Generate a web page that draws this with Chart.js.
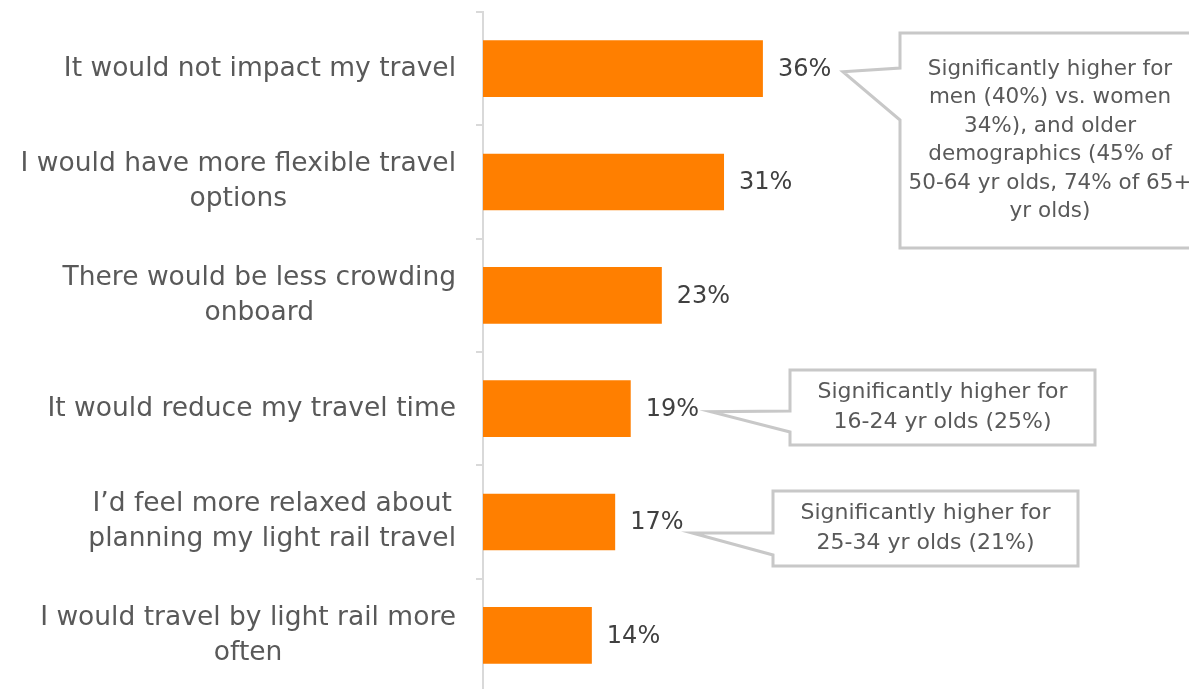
<!DOCTYPE html>
<html>
<head>
<meta charset="utf-8">
<script src="https://cdn.jsdelivr.net/npm/chart.js@4/dist/chart.umd.min.js"></script>
<style>
  html, body { margin: 0; padding: 0; background: #fff; overflow: hidden; }
  #wrap { width: 1189px; height: 689px; overflow: hidden; }
</style>
</head>
<body>
<div id="wrap"><canvas id="chart" width="1189" height="700"></canvas></div>
<script>
// Light rail survey: expected impact on travel (% of respondents)
const categories = [
  ["It would not impact my travel"],
  ["I would have more flexible travel", "options"],
  ["There would be less crowding", "onboard"],
  ["It would reduce my travel time"],
  ["I\u2019d feel more relaxed about", "planning my light rail travel"],
  ["I would travel by light rail more", "often"]
];
const shares = [36, 31, 23, 19, 17, 14];

const noteTopLines = [
  "Significantly higher for",
  "men (40%) vs. women",
  "34%), and older",
  "demographics (45% of",
  "50-64 yr olds, 74% of 65+",
  "yr olds)"
];
const noteYoungLines = ["Significantly higher for", "16-24 yr olds (25%)"];
const noteMidLines = ["Significantly higher for", "25-34 yr olds (21%)"];

const FONT = "'DejaVu Sans', sans-serif";
const ORANGE = "#FF7F00";
const GREY_LINE = "#d9d9d9";

// callout geometry: box in canvas px, pointer tip anchored to the bar end
const callouts = [
  { index: 0, lines: noteTopLines, box: [900, 33, 300, 215], base: [68, 120], tipDx: 80, tipDy: 3, lineH: 28.5, size: 21.5 },
  { index: 3, lines: noteYoungLines, box: [790, 370, 305, 75], base: [411, 432], tipDx: 80, tipDy: 3, lineH: 30, size: 22 },
  { index: 4, lines: noteMidLines, box: [773, 491, 305, 75], base: [533, 555], tipDx: 77, tipDy: 11, lineH: 30, size: 22 }
];

const labelPlugin = {
  id: "labels",
  afterDatasetsDraw(chart) {
    const ctx = chart.ctx;
    const meta = chart.getDatasetMeta(0);
    const yScale = chart.scales.y;

    ctx.save();
    // category labels: right-aligned block, lines centred inside it
    ctx.font = "26.5px " + FONT;
    ctx.fillStyle = "#595959";
    ctx.textAlign = "center";
    ctx.textBaseline = "middle";
    const right = yScale.right - 27;
    categories.forEach((lines, i) => {
      const cy = yScale.getPixelForValue(i);
      const w = Math.max(...lines.map((l) => ctx.measureText(l).width));
      const lh = 35;
      lines.forEach((l, k) => {
        ctx.fillText(l, right - w / 2, cy + (k - (lines.length - 1) / 2) * lh);
      });
    });

    // value labels
    ctx.font = "24px " + FONT;
    ctx.fillStyle = "#404040";
    ctx.textAlign = "left";
    meta.data.forEach((bar, i) => {
      ctx.fillText(shares[i] + "%", bar.x + 15, bar.y + 1);
    });

    // callouts
    callouts.forEach((c) => {
      const bar = meta.data[c.index];
      const tipX = bar.x + c.tipDx;
      const tipY = bar.y + c.tipDy;
      const [bx, by, bw, bh] = c.box;
      ctx.beginPath();
      ctx.moveTo(bx, by);
      ctx.lineTo(bx + bw, by);
      ctx.lineTo(bx + bw, by + bh);
      ctx.lineTo(bx, by + bh);
      ctx.lineTo(bx, c.base[1]);
      ctx.lineTo(tipX, tipY);
      ctx.lineTo(bx, c.base[0]);
      ctx.closePath();
      ctx.fillStyle = "#fff";
      ctx.fill();
      ctx.strokeStyle = "#c8c8c8";
      ctx.lineWidth = 3;
      ctx.lineJoin = "miter";
      ctx.stroke();

      ctx.font = c.size + "px " + FONT;
      ctx.fillStyle = "#595959";
      ctx.textAlign = "center";
      const cx = bx + bw / 2;
      const cy = by + bh / 2;
      c.lines.forEach((l, k) => {
        ctx.fillText(l, cx, cy + (k - (c.lines.length - 1) / 2) * c.lineH);
      });
    });
    ctx.restore();
  }
};

new Chart(document.getElementById("chart"), {
  type: "bar",
  data: {
    labels: categories,
    datasets: [{
      data: shares,
      backgroundColor: ORANGE,
      borderWidth: 0,
      barPercentage: 0.5,
      categoryPercentage: 1
    }]
  },
  options: {
    indexAxis: "y",
    responsive: false,
    animation: false,
    events: [],
    layout: { padding: { top: 12, bottom: 8, left: 0, right: 395 } },
    plugins: { legend: { display: false }, tooltip: { enabled: false } },
    scales: {
      x: { display: false, min: 0, max: 40 },
      y: {
        afterFit(scale) { scale.width = 483; },
        ticks: { display: false },
        grid: {
          offset: true,
          drawOnChartArea: false,
          drawTicks: true,
          tickLength: 7,
          color: GREY_LINE,
          lineWidth: 2
        },
        border: { display: true, color: GREY_LINE, width: 2 }
      }
    }
  },
  plugins: [labelPlugin]
});
</script>
</body>
</html>
